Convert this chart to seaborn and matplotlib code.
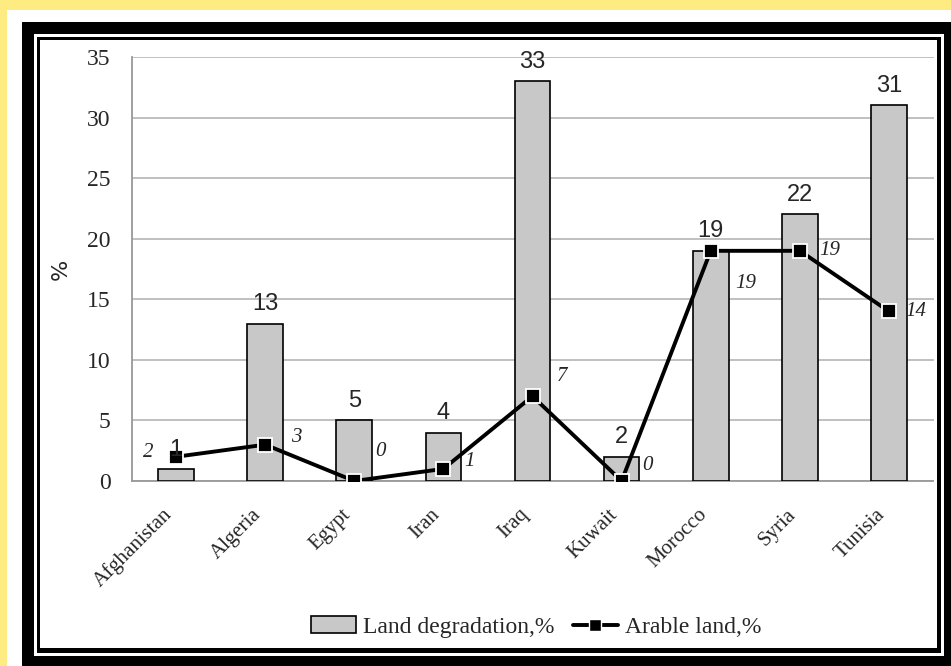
import matplotlib
matplotlib.use("Agg")
import matplotlib.pyplot as plt
from matplotlib.patches import Rectangle, Patch
from matplotlib.lines import Line2D
import seaborn as sns
import numpy as np

countries = ["Afghanistan", "Algeria", "Egypt", "Iran", "Iraq", "Kuwait", "Morocco", "Syria", "Tunisia"]
land_degradation = [1, 13, 5, 4, 33, 2, 19, 22, 31]
arable_land = [2, 3, 0, 1, 7, 0, 19, 19, 14]
y_ticks = [0, 5, 10, 15, 20, 25, 30, 35]

sns.set_style("white")
plt.rcParams['font.family'] = ['Liberation Serif', 'DejaVu Serif']

fig = plt.figure(figsize=(9.51, 6.66), dpi=100)
fig.patch.set_facecolor("#FEEC82")

W, H = 951.0, 666.0
def frect(x0, y0, x1, y1, color, z):
    fig.patches.append(Rectangle((x0 / W, 1 - y1 / H), (x1 - x0) / W, (y1 - y0) / H,
                                 transform=fig.transFigure, facecolor=color,
                                 edgecolor="none", zorder=z))
# white margin, black frame, thin white line, thin black line, white inner
frect(7, 10, 951, 666, "white", -10)
frect(22, 22, 951, 666, "black", -9)
frect(34, 34, 944, 656, "white", -8)
frect(37, 37, 941, 653, "black", -7)
frect(40, 40, 937, 648, "white", -6)

ax = fig.add_axes([131.5 / W, 1 - 481 / H, (933.5 - 131.5) / W, (481 - 57) / H])
ax.set_facecolor("none")

sns.barplot(x=countries, y=land_degradation, ax=ax, color="#C8C8C8",
            edgecolor="black", linewidth=1.2, width=0.4, saturation=1, zorder=3)
sns.pointplot(x=countries, y=arable_land, ax=ax, color="black", markers="s",
              linestyles="-", zorder=5)
for ln in ax.lines:
    ln.set_linewidth(2.8)
    ln.set_marker("s")
    ln.set_markersize(10.5)
    ln.set_markerfacecolor("black")
    ln.set_markeredgecolor("white")
    ln.set_markeredgewidth(1.3)
    ln.set_zorder(5)
for c in ax.collections:
    c.set_visible(False)

ax.set_xlim(-0.5, len(countries) - 0.5)
ax.set_ylim(0, 35)
ax.set_yticks(y_ticks)
ax.set_yticklabels([str(t) for t in y_ticks], fontsize=17)
ax.yaxis.grid(True, color="#AFAFAF", linewidth=1.1, zorder=0)
ax.set_axisbelow(True)
for s in ["top", "right"]:
    ax.spines[s].set_visible(False)
ax.spines["left"].set_color("#999999")
ax.spines["bottom"].set_color("#999999")
ax.spines["left"].set_linewidth(1.3)
ax.spines["bottom"].set_linewidth(1.3)
ax.tick_params(axis="y", length=6, color="#999999", pad=9)
ax.tick_params(axis="x", length=0, pad=27)
ax.set_xticks(range(len(countries)))
ax.set_xticklabels(countries, rotation=45, ha="right", va="bottom",
                   rotation_mode="anchor", fontsize=15)
ax.set_xticks(np.arange(0.5, len(countries) - 0.5, 1), minor=True)
ax.tick_params(axis="x", which="minor", length=5, color="#BBBBBB", direction="out")
ax.set_xlabel("")
ax.set_ylabel("%", fontsize=16, family="DejaVu Sans")
ax.yaxis.set_label_coords(-0.076, 0.5)

# bar labels
for i, v in enumerate(land_degradation):
    ax.annotate(str(v), (i, v), xytext=(0, 6), textcoords="offset points",
                ha="center", va="bottom", fontsize=17, family="Liberation Sans", zorder=6)

# line labels (italic serif), offsets in pixels from the marker
label_offsets_px = [(-28, 4), (31, 7), (26, 29), (26, 7), (30, 20), (26, 15),
                    (35, -33), (30, 0), (27, 0)]
for i, v in enumerate(arable_land):
    dx, dy = label_offsets_px[i]
    ax.annotate(str(v), (i, v), xytext=(dx * 0.72, dy * 0.72), textcoords="offset points",
                ha="center", va="center", fontsize=15, style="italic", zorder=6)

# legend
handles = [Patch(facecolor="#C8C8C8", edgecolor="black", linewidth=1.2),
           Line2D([0], [0], color="black", linewidth=2.8, marker="s", markersize=9,
                  markerfacecolor="black", markeredgecolor="white")]
fig.legend(handles, ["Land degradation,%", "Arable land,%"], loc="center",
           bbox_to_anchor=(536 / W, 1 - 627 / H), ncol=2, frameon=False,
           fontsize=17, handlelength=1.9, handletextpad=0.3, columnspacing=0.8)

fig.savefig("out.png", dpi=100, facecolor=fig.get_facecolor())
